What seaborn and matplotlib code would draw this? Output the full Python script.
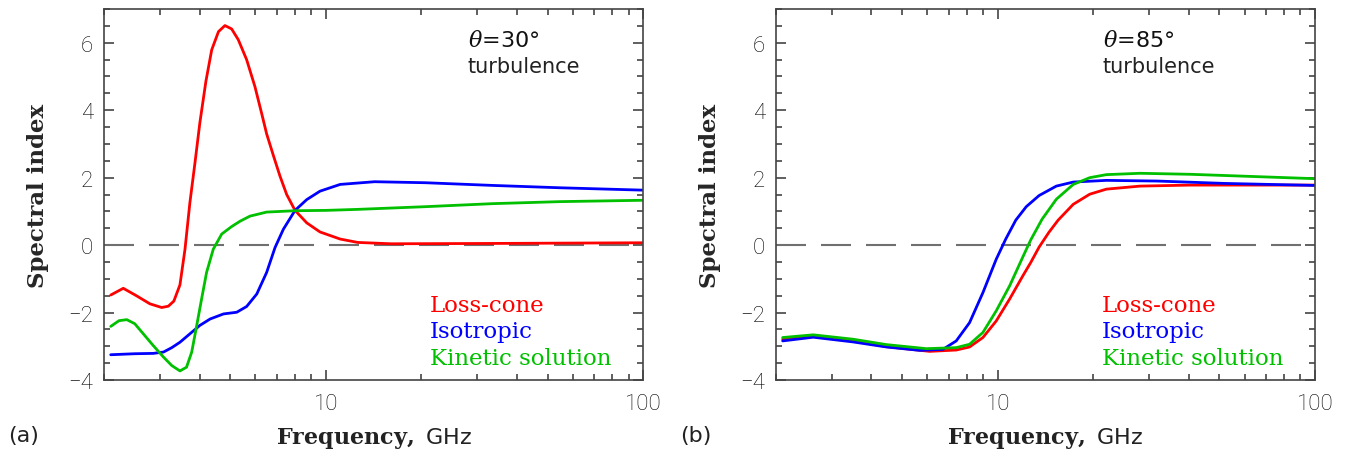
import numpy as np
import pandas as pd
import matplotlib
matplotlib.use("Agg")
import matplotlib.pyplot as plt
import seaborn as sns
from matplotlib.ticker import FixedLocator, MultipleLocator, NullFormatter

sns.set_style("ticks")
plt.rcParams["mathtext.fontset"] = "dejavuserif"
plt.rcParams["font.family"] = ["DejaVu Sans"]

# panel (a), theta = 30 deg
a_loss_f = [2.10, 2.30, 2.53, 2.79, 3.04, 3.19, 3.32, 3.47, 3.60, 3.73, 3.87, 4.01, 4.19, 4.37,
            4.59, 4.81, 5.05, 5.30, 5.63, 5.98, 6.30, 6.51, 6.84, 7.17, 7.53, 8.00, 8.71, 9.59, 11.1,
            12.6, 16.1, 33.6, 100]
a_loss_v = [-1.48, -1.28, -1.50, -1.74, -1.85, -1.81, -1.66, -1.18, -0.12, 1.26, 2.44, 3.63, 4.86, 5.79,
            6.33, 6.51, 6.41, 6.09, 5.50, 4.70, 3.85, 3.30, 2.65, 2.05, 1.50, 1.03, 0.66, 0.39, 0.18,
            0.08, 0.04, 0.05, 0.07]
a_iso_f = [2.10, 2.50, 2.86, 3.08, 3.27, 3.47, 3.73, 4.01, 4.32, 4.76, 5.24, 5.63, 6.06, 6.51, 6.92,
           7.35, 8.00, 8.71, 9.59, 11.1, 14.25, 20.6, 33.6, 54.9, 100]
a_iso_v = [-3.25, -3.22, -3.21, -3.17, -3.04, -2.88, -2.63, -2.38, -2.19, -2.04, -1.99, -1.82, -1.45, -0.81, -0.07,
           0.47, 1.03, 1.35, 1.60, 1.80, 1.88, 1.85, 1.77, 1.70, 1.63]
a_kin_f = [2.10, 2.23, 2.36, 2.50, 2.66, 2.86, 3.08, 3.27, 3.47, 3.64, 3.78, 3.92, 4.06, 4.21, 4.42,
           4.70, 5.05, 5.37, 5.77, 6.51, 8.00, 10.0, 12.6, 20.6, 33.6, 54.9, 100]
a_kin_v = [-2.41, -2.24, -2.21, -2.33, -2.63, -2.98, -3.32, -3.57, -3.73, -3.62, -3.17, -2.38, -1.60, -0.81, -0.12,
           0.33, 0.55, 0.71, 0.86, 0.98, 1.02, 1.03, 1.06, 1.14, 1.23, 1.29, 1.33]

# panel (b), theta = 85 deg
b_loss_f = [2.10, 2.62, 3.50, 4.46, 6.10, 7.40, 8.15, 8.98, 9.89, 10.9, 12.0, 12.7, 13.5, 14.5,
            15.5, 17.3, 19.5, 22.0, 28.1, 40.5, 100]
b_loss_v = [-2.79, -2.69, -2.84, -3.01, -3.15, -3.11, -3.02, -2.74, -2.25, -1.60, -0.91, -0.52, -0.06, 0.38,
            0.74, 1.21, 1.51, 1.66, 1.75, 1.78, 1.78]
b_iso_f = [2.10, 2.62, 3.50, 4.46, 5.68, 6.72, 7.40, 8.15, 8.98, 9.89, 10.6, 11.4, 12.3, 13.5,
           15.3, 17.3, 22.0, 31.8, 51.7, 100]
b_iso_v = [-2.84, -2.73, -2.87, -3.02, -3.12, -3.09, -2.84, -2.30, -1.41, -0.42, 0.18, 0.74, 1.14, 1.47,
           1.75, 1.87, 1.92, 1.90, 1.83, 1.77]
b_kin_f = [2.10, 2.62, 3.50, 4.46, 5.96, 7.40, 8.15, 8.98, 9.89, 10.9, 12.0, 12.7, 13.8, 15.3,
           17.3, 19.5, 22.0, 28.1, 40.5, 65.9, 100]
b_kin_v = [-2.74, -2.66, -2.79, -2.95, -3.07, -3.04, -2.94, -2.59, -1.95, -1.21, -0.35, 0.15, 0.77, 1.36,
           1.80, 2.00, 2.09, 2.13, 2.10, 2.03, 1.97]

models = ["Loss-cone", "Isotropic", "Kinetic solution"]
colors = {"Loss-cone": "#ff0000", "Isotropic": "#0000ff", "Kinetic solution": "#00c000"}
angles = ["30", "85"]
panel_tags = ["(a)", "(b)"]


def make_df(loss_f, loss_v, iso_f, iso_v, kin_f, kin_v):
    parts = []
    for name, f, v in zip(models, [loss_f, iso_f, kin_f], [loss_v, iso_v, kin_v]):
        parts.append(pd.DataFrame({"freq": f, "index": v, "model": name}))
    return pd.concat(parts, ignore_index=True)


dfs = [make_df(a_loss_f, a_loss_v, a_iso_f, a_iso_v, a_kin_f, a_kin_v),
       make_df(b_loss_f, b_loss_v, b_iso_f, b_iso_v, b_kin_f, b_kin_v)]

fig = plt.figure(figsize=(13.49, 4.52), dpi=100)
lefts = [0.0771, 0.5752]
tick_font = dict(family=["Roboto", "DejaVu Sans"], weight="light", size=16, color="#000000")

for i, df in enumerate(dfs):
    ax = fig.add_axes([lefts[i], 0.157, 0.3996, 0.8208])
    ax.set_xscale("log")
    ax.axhline(0, color="#707070", lw=1.5, linestyle=(0, (14.4, 7.2)), zorder=1)
    sns.lineplot(data=df, x="freq", y="index", hue="model", palette=colors,
                 estimator=None, sort=True, legend=False, lw=2, ax=ax, zorder=2)
    ax.set_xlim(2, 100)
    ax.set_ylim(-4, 7)

    ax.xaxis.set_major_locator(FixedLocator([10, 100]))
    ax.set_xticklabels(["10", "100"], fontdict=tick_font)
    ax.xaxis.set_minor_locator(FixedLocator([2, 3, 4, 5, 6, 7, 8, 9, 20, 30, 40, 50, 60, 70, 80, 90]))
    ax.xaxis.set_minor_formatter(NullFormatter())
    ax.set_yticks([-4, -2, 0, 2, 4, 6])
    ax.set_yticklabels(["\u22124", "\u22122", "0", "2", "4", "6"], fontdict=tick_font)
    ax.yaxis.set_minor_locator(MultipleLocator(0.5))
    ax.tick_params(which="both", direction="in", top=True, right=True, color="#444444", width=1.2)
    ax.tick_params(which="major", length=7.5)
    ax.tick_params(which="minor", length=4)
    ax.tick_params(axis="y", pad=8)
    ax.tick_params(axis="x", pad=9)
    for sp in ax.spines.values():
        sp.set_color("#444444")
        sp.set_linewidth(1.2)

    ax.set_ylabel("Spectral index", family="DejaVu Serif", fontweight="bold", fontsize=16.5, labelpad=14)
    ax.set_xlabel(r"$\mathbf{Frequency,}$ GHz", fontsize=16, color="#222222", labelpad=8)

    tx = 0.675 if i == 0 else 0.606
    ax.text(tx, 0.900, r"$\theta$=" + angles[i] + "\u00b0", transform=ax.transAxes,
            fontsize=16, va="baseline", color="#111111")
    ax.text(tx, 0.830, "turbulence", transform=ax.transAxes, fontsize=15,
            va="baseline", color="#222222")
    lx = 0.605
    for k, (name, yy) in enumerate(zip(models, [0.186, 0.116, 0.043])):
        ax.text(lx, yy, name, transform=ax.transAxes, family="DejaVu Serif", fontsize=16.5,
                va="baseline", color=colors[name])

fig.text(0.006, 0.022, panel_tags[0], fontsize=16, va="baseline", color="#222222")
fig.text(0.504, 0.022, panel_tags[1], fontsize=16, va="baseline", color="#222222")

fig.savefig("out.png", dpi=100)
